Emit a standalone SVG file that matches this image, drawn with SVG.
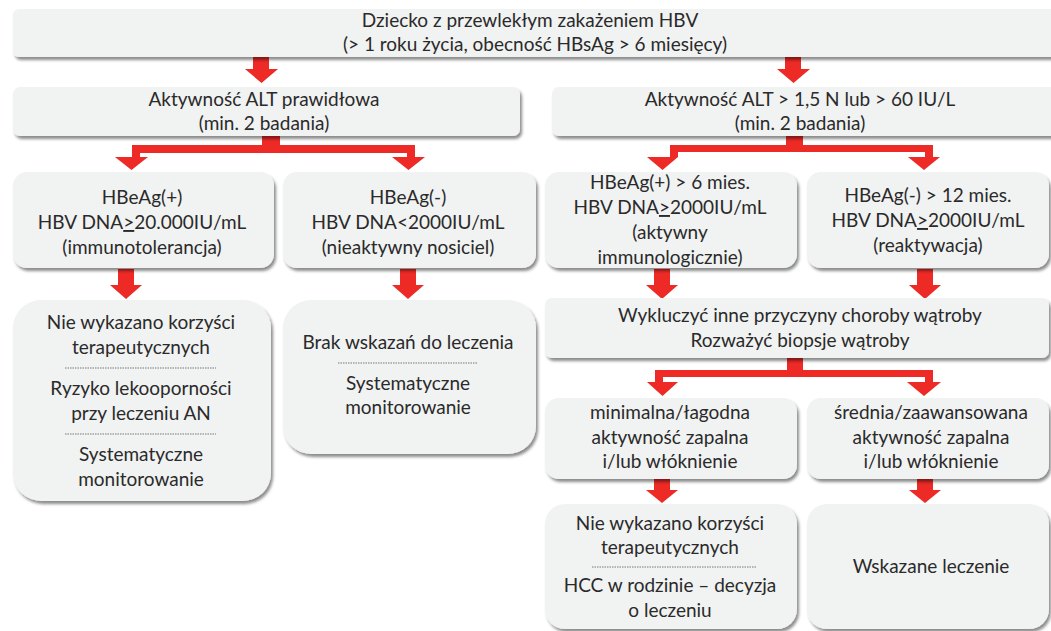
<svg xmlns="http://www.w3.org/2000/svg" width="1051" height="631" viewBox="0 0 1051 631">
<defs>
<filter id="sh" x="-5%" y="-10%" width="115%" height="130%">
<feDropShadow dx="2" dy="3" stdDeviation="1.6" flood-color="#000" flood-opacity="0.45"/>
</filter>
</defs>
<style>
.box{fill:#f1f2f2;filter:url(#sh)}
text{font-family:Lato,"Open Sans","Liberation Sans",sans-serif;font-size:19px;fill:#2a2a2a;text-anchor:middle}
.arr{fill:#ee2a27}
.sep{stroke:#444;stroke-width:0.7;stroke-dasharray:1.5 1}
</style>
<rect width="1051" height="631" fill="#fff"/>

<g id="connectors" class="arr">
<path d="M253,57 H269 V69 H278 L261.5,83 L245,69 H253 Z"/>
<path d="M785,57 H801 V69 H810 L793.5,83 L777,69 H785 Z"/>
<path d="M262,136 H280 V145 H415 V157 H425 L408.5,170 L392,157 H407 V153 H140 V157 H148 L131.5,170 L115,157 H132 V145 H262 Z"/>
<path d="M786,136 H803 V145 H933 V157 H940 L924,170 L908,157 H925 V152 H678 V157 L662.5,170 L647,157 H670 V145 H786 Z"/>
<path d="M118,269 H134 V285 H142 L126,299 L110,285 H118 Z"/>
<path d="M400,269 H416 V285 H424 L408,299 L392,285 H400 Z"/>
<path d="M654,269 H670 V285 H678 L662,299 L646,285 H654 Z"/>
<path d="M917,269 H933 V285 H941 L925,299 L909,285 H917 Z"/>
<path d="M787,358 H803 V370 H933 V382 H941 L924,396 L907,382 H925 V377 H663 V382 H678 L662.5,396 L647,382 H655 V370 H787 Z"/>
<path d="M654,479 H670 V490 H678 L662,503 L646,490 H654 Z"/>
<path d="M917,479 H933 V490 H941 L925,503 L909,490 H917 Z"/>
</g>

<g id="n-root">
<rect class="box" x="13" y="9" width="1060" height="48" rx="6"/>
<text x="530" y="27">Dziecko z przewlekłym zakażeniem HBV</text>
<text x="535" y="51">(&gt; 1 roku życia, obecność HBsAg &gt; 6 miesięcy)</text>
</g>

<g id="n-alt-normal">
<rect class="box" x="13" y="87" width="507" height="49" rx="7"/>
<text x="264" y="106">Aktywność ALT prawidłowa</text>
<text x="264" y="130">(min. 2 badania)</text>
</g>

<g id="n-alt-high">
<rect class="box" x="552" y="87" width="520" height="49" rx="7"/>
<text x="800" y="106">Aktywność ALT &gt; 1,5 N lub &gt; 60 IU/L</text>
<text x="800" y="130">(min. 2 badania)</text>
</g>

<g id="n-immunotol">
<rect class="box" x="13" y="172" width="261" height="96" rx="14"/>
<text x="142" y="204">HBeAg(+)</text>
<text x="142" y="229">HBV DNA<tspan text-decoration="underline">&gt;</tspan>20.000IU/mL</text>
<text x="142" y="254">(immunotolerancja)</text>
</g>

<g id="n-carrier">
<rect class="box" x="283" y="172" width="253" height="96" rx="14"/>
<text x="408" y="204">HBeAg(-)</text>
<text x="408" y="229">HBV DNA&lt;2000IU/mL</text>
<text x="408" y="254">(nieaktywny nosiciel)</text>
</g>

<g id="n-active">
<rect class="box" x="545" y="172" width="252" height="96" rx="14"/>
<text x="670" y="189">HBeAg(+) &gt; 6 mies.</text>
<text x="670" y="214">HBV DNA<tspan text-decoration="underline">&gt;</tspan>2000IU/mL</text>
<text x="670" y="239">(aktywny</text>
<text x="670" y="264">immunologicznie)</text>
</g>

<g id="n-reactiv">
<rect class="box" x="807" y="172" width="242" height="96" rx="14"/>
<text x="928" y="202">HBeAg(-) &gt; 12 mies.</text>
<text x="928" y="227">HBV DNA<tspan text-decoration="underline">&gt;</tspan>2000IU/mL</text>
<text x="928" y="252">(reaktywacja)</text>
</g>

<g id="n-nobenefit1">
<rect class="box" x="13" y="300" width="258" height="201" rx="28"/>
<text x="141" y="329">Nie wykazano korzyści</text>
<text x="141" y="354">terapeutycznych</text>
<line class="sep" x1="65" y1="368" x2="216" y2="368"/>
<text x="141" y="395">Ryzyko lekooporności</text>
<text x="141" y="420">przy leczeniu AN</text>
<line class="sep" x1="65" y1="434" x2="216" y2="434"/>
<text x="141" y="461">Systematyczne</text>
<text x="141" y="486">monitorowanie</text>
</g>

<g id="n-notreat">
<rect class="box" x="283" y="300" width="253" height="154" rx="28"/>
<text x="408" y="349">Brak wskazań do leczenia</text>
<line class="sep" x1="338" y1="363" x2="478" y2="363"/>
<text x="408" y="390">Systematyczne</text>
<text x="408" y="414">monitorowanie</text>
</g>

<g id="n-exclude">
<rect class="box" x="545" y="298" width="504" height="60" rx="7"/>
<text x="800" y="322">Wykluczyć inne przyczyny choroby wątroby</text>
<text x="800" y="347">Rozważyć biopsje wątroby</text>
</g>

<g id="n-mild">
<rect class="box" x="545" y="398" width="252" height="81" rx="14"/>
<text x="670" y="419">minimalna/łagodna</text>
<text x="670" y="444">aktywność zapalna</text>
<text x="670" y="468">i/lub włóknienie</text>
</g>

<g id="n-severe">
<rect class="box" x="807" y="398" width="242" height="81" rx="14"/>
<text x="931" y="419">średnia/zaawansowana</text>
<text x="931" y="444">aktywność zapalna</text>
<text x="931" y="468">i/lub włóknienie</text>
</g>

<g id="n-nobenefit2">
<rect class="box" x="545" y="504" width="252" height="125" rx="20"/>
<text x="670" y="530">Nie wykazano korzyści</text>
<text x="670" y="554">terapeutycznych</text>
<line class="sep" x1="592" y1="567" x2="757" y2="567"/>
<text x="670" y="592">HCC w rodzinie – decyzja</text>
<text x="670" y="617">o leczeniu</text>
</g>

<g id="n-treat">
<rect class="box" x="807" y="504" width="242" height="125" rx="20"/>
<text x="931" y="573">Wskazane leczenie</text>
</g>
</svg>
